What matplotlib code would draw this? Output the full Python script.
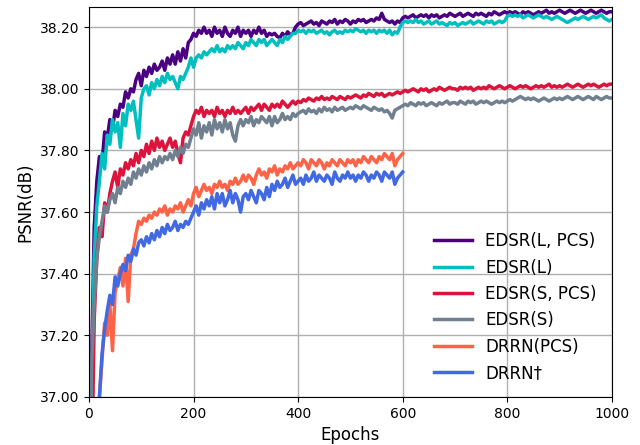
import numpy as np
import matplotlib
matplotlib.use("Agg")
import matplotlib.pyplot as plt

# epochs sampled every 5
epochs_edsr = np.arange(0, 1001, 5)
epochs_drrn = np.arange(0, 601, 5)

edsr_l_pcs = [
    36.30, 37.10, 37.55, 37.70, 37.78, 37.76, 37.86, 37.84, 37.90, 37.87, 37.93, 37.91, 37.95, 37.94, 37.99, 37.97, 38.00, 37.99, 38.03, 38.05,
    38.01, 38.06, 38.04, 38.07, 38.05, 38.08, 38.06, 38.07, 38.09, 38.06, 38.10, 38.08, 38.11, 38.08, 38.12, 38.09, 38.13, 38.10, 38.15, 38.16,
    38.18, 38.17, 38.19, 38.18, 38.20, 38.18, 38.19, 38.17, 38.20, 38.18, 38.19, 38.17, 38.20, 38.18, 38.17, 38.19, 38.18, 38.20, 38.17, 38.19,
    38.18, 38.19, 38.17, 38.19, 38.18, 38.20, 38.18, 38.19, 38.17, 38.18, 38.175, 38.18, 38.17, 38.165, 38.18, 38.17, 38.185, 38.175, 38.18, 38.20,
    38.21, 38.215, 38.205, 38.21, 38.215, 38.22, 38.21, 38.215, 38.205, 38.22, 38.215, 38.21, 38.22, 38.215, 38.225, 38.21, 38.22, 38.215, 38.225, 38.22,
    38.21, 38.22, 38.215, 38.225, 38.22, 38.225, 38.215, 38.22, 38.225, 38.22, 38.23, 38.225, 38.245, 38.225, 38.22, 38.215, 38.22, 38.21, 38.22, 38.215,
    38.23, 38.235, 38.23, 38.235, 38.24, 38.23, 38.235, 38.24, 38.235, 38.24, 38.23, 38.24, 38.235, 38.24, 38.23, 38.235, 38.24, 38.235, 38.245, 38.24,
    38.235, 38.24, 38.245, 38.235, 38.24, 38.245, 38.24, 38.235, 38.245, 38.24, 38.245, 38.24, 38.235, 38.245, 38.24, 38.25, 38.245, 38.24, 38.245, 38.25,
    38.245, 38.25, 38.245, 38.25, 38.245, 38.24, 38.25, 38.245, 38.25, 38.245, 38.24, 38.245, 38.25, 38.245, 38.25, 38.255, 38.245, 38.25, 38.245, 38.25,
    38.255, 38.25, 38.245, 38.25, 38.255, 38.25, 38.245, 38.25, 38.255, 38.25, 38.245, 38.25, 38.255, 38.25, 38.245, 38.25, 38.255, 38.25, 38.245, 38.25,
    38.25,
]

edsr_l = [
    36.20, 37.00, 37.45, 37.62, 37.70, 37.79, 37.74, 37.85, 37.82, 37.90, 37.86, 37.89, 37.81, 37.92, 37.88, 37.95, 37.93, 37.96, 37.90, 37.84,
    37.97, 38.00, 38.01, 37.98, 38.02, 38.00, 38.03, 38.01, 38.04, 38.02, 38.05, 38.03, 38.04, 38.02, 38.00, 38.04, 38.03, 38.05, 38.07, 38.10,
    38.07, 38.10, 38.11, 38.10, 38.12, 38.11, 38.12, 38.13, 38.12, 38.14, 38.12, 38.13, 38.12, 38.14, 38.13, 38.14, 38.13, 38.15, 38.14, 38.13,
    38.15, 38.14, 38.16, 38.15, 38.14, 38.16, 38.15, 38.16, 38.14, 38.15, 38.16, 38.15, 38.14, 38.16, 38.15, 38.17, 38.16, 38.17, 38.18, 38.18,
    38.19, 38.185, 38.19, 38.18, 38.19, 38.185, 38.19, 38.18, 38.185, 38.19, 38.18, 38.185, 38.175, 38.185, 38.19, 38.18, 38.185, 38.18, 38.19, 38.185,
    38.19, 38.185, 38.195, 38.19, 38.185, 38.19, 38.18, 38.19, 38.185, 38.19, 38.18, 38.19, 38.185, 38.19, 38.18, 38.19, 38.175, 38.185, 38.18, 38.20,
    38.215, 38.22, 38.215, 38.22, 38.215, 38.225, 38.215, 38.22, 38.21, 38.215, 38.22, 38.21, 38.215, 38.22, 38.21, 38.215, 38.21, 38.205, 38.215, 38.21,
    38.215, 38.205, 38.21, 38.215, 38.21, 38.215, 38.22, 38.21, 38.215, 38.22, 38.215, 38.21, 38.22, 38.215, 38.22, 38.21, 38.215, 38.22, 38.215, 38.22,
    38.235, 38.24, 38.235, 38.24, 38.235, 38.24, 38.23, 38.235, 38.24, 38.235, 38.23, 38.235, 38.24, 38.235, 38.23, 38.235, 38.23, 38.225, 38.23, 38.235,
    38.23, 38.225, 38.22, 38.215, 38.22, 38.225, 38.23, 38.225, 38.23, 38.235, 38.23, 38.225, 38.23, 38.235, 38.23, 38.235, 38.24, 38.23, 38.225, 38.22,
    38.225,
]

edsr_s_pcs = [
    36.20, 36.70, 37.25, 37.45, 37.55, 37.52, 37.63, 37.60, 37.66, 37.70, 37.73, 37.68, 37.74, 37.72, 37.76, 37.74, 37.77, 37.75, 37.79, 37.76,
    37.80, 37.78, 37.82, 37.79, 37.83, 37.80, 37.84, 37.81, 37.83, 37.80, 37.82, 37.84, 37.81, 37.83, 37.79, 37.76, 37.84, 37.86, 37.85, 37.88,
    37.91, 37.93, 37.92, 37.94, 37.91, 37.93, 37.92, 37.93, 37.91, 37.94, 37.92, 37.93, 37.91, 37.93, 37.92, 37.94, 37.92, 37.93, 37.92, 37.93,
    37.94, 37.92, 37.94, 37.93, 37.94, 37.95, 37.93, 37.95, 37.94, 37.93, 37.95, 37.94, 37.95, 37.94, 37.96, 37.95, 37.94, 37.95, 37.96, 37.95,
    37.96, 37.955, 37.965, 37.96, 37.97, 37.965, 37.96, 37.97, 37.965, 37.975, 37.965, 37.97, 37.965, 37.975, 37.97, 37.965, 37.975, 37.97, 37.965, 37.975,
    37.97, 37.975, 37.98, 37.975, 37.97, 37.98, 37.975, 37.985, 37.98, 37.975, 37.985, 37.98, 37.985, 37.975, 37.98, 37.985, 37.98, 37.985, 37.99, 37.985,
    37.99, 37.995, 37.99, 37.995, 38.00, 37.995, 37.99, 38.00, 37.995, 38.00, 37.99, 37.995, 38.00, 37.995, 38.005, 38.00, 37.995, 38.00, 38.005, 38.00,
    38.00, 37.995, 38.005, 38.00, 38.005, 38.00, 38.005, 37.995, 38.00, 38.005, 38.00, 38.005, 38.00, 38.01, 38.005, 38.00, 38.005, 38.01, 38.005, 38.00,
    38.005, 38.01, 38.005, 38.00, 38.005, 38.01, 38.005, 38.01, 38.005, 38.00, 38.005, 38.01, 38.005, 38.01, 38.005, 38.01, 38.015, 38.005, 38.01, 38.005,
    38.01, 38.005, 38.01, 38.015, 38.01, 38.005, 38.01, 38.015, 38.01, 38.005, 38.01, 38.015, 38.01, 38.015, 38.01, 38.005, 38.01, 38.015, 38.01, 38.015,
    38.015,
]

edsr_s = [
    36.00, 37.10, 37.30, 37.45, 37.52, 37.57, 37.62, 37.60, 37.64, 37.66, 37.63, 37.68, 37.66, 37.70, 37.68, 37.71, 37.69, 37.73, 37.71, 37.74,
    37.72, 37.75, 37.73, 37.76, 37.74, 37.77, 37.75, 37.78, 37.76, 37.78, 37.77, 37.79, 37.77, 37.80, 37.78, 37.81, 37.79, 37.82, 37.81, 37.84,
    37.87, 37.85, 37.89, 37.84, 37.88, 37.86, 37.89, 37.85, 37.90, 37.87, 37.89, 37.86, 37.90, 37.87, 37.89, 37.85, 37.83, 37.88, 37.90, 37.88,
    37.90, 37.89, 37.91, 37.88, 37.90, 37.89, 37.91, 37.90, 37.89, 37.91, 37.88, 37.91, 37.89, 37.90, 37.92, 37.90, 37.91, 37.90, 37.92, 37.91,
    37.92, 37.925, 37.93, 37.92, 37.935, 37.925, 37.93, 37.92, 37.935, 37.925, 37.94, 37.93, 37.935, 37.925, 37.94, 37.93, 37.935, 37.94, 37.93, 37.935,
    37.94, 37.935, 37.945, 37.94, 37.935, 37.945, 37.94, 37.935, 37.93, 37.94, 37.935, 37.93, 37.935, 37.925, 37.93, 37.92, 37.905, 37.93, 37.935, 37.94,
    37.945, 37.95, 37.945, 37.955, 37.95, 37.945, 37.955, 37.95, 37.955, 37.945, 37.95, 37.955, 37.95, 37.945, 37.955, 37.95, 37.955, 37.96, 37.95, 37.955,
    37.955, 37.95, 37.96, 37.955, 37.95, 37.96, 37.955, 37.96, 37.95, 37.955, 37.96, 37.955, 37.96, 37.955, 37.95, 37.955, 37.96, 37.955, 37.96, 37.955,
    37.96, 37.965, 37.96, 37.965, 37.97, 37.975, 37.97, 37.965, 37.97, 37.965, 37.97, 37.965, 37.96, 37.965, 37.97, 37.965, 37.96, 37.965, 37.97, 37.965,
    37.97, 37.965, 37.97, 37.975, 37.97, 37.965, 37.97, 37.975, 37.97, 37.965, 37.97, 37.975, 37.97, 37.965, 37.975, 37.97, 37.965, 37.97, 37.975, 37.97,
    37.97,
]

drrn_pcs = [
    35.80, 36.20, 36.60, 36.90, 37.00, 37.12, 37.24, 37.20, 37.30, 37.15, 37.34, 37.38, 37.42, 37.36, 37.45, 37.31, 37.46, 37.48, 37.53, 37.57,
    37.56, 37.58, 37.57, 37.59, 37.58, 37.60, 37.59, 37.61, 37.60, 37.62, 37.59, 37.61, 37.60, 37.62, 37.61, 37.63, 37.60, 37.62, 37.64, 37.62,
    37.66, 37.68, 37.65, 37.67, 37.69, 37.67, 37.68, 37.66, 37.69, 37.68, 37.70, 37.68, 37.69, 37.67, 37.70, 37.69, 37.71, 37.69, 37.70, 37.72,
    37.70, 37.72, 37.71, 37.69, 37.72, 37.74, 37.72, 37.73, 37.71, 37.74, 37.73, 37.75, 37.72, 37.74, 37.73, 37.75, 37.74, 37.76, 37.74, 37.75,
    37.76, 37.75, 37.77, 37.76, 37.74, 37.77, 37.76, 37.75, 37.77, 37.76, 37.74, 37.76, 37.75, 37.77, 37.76, 37.75, 37.77, 37.76, 37.75, 37.77,
    37.76, 37.77, 37.75, 37.77, 37.76, 37.78, 37.77, 37.76, 37.78, 37.77, 37.76, 37.78, 37.77, 37.79, 37.78, 37.77, 37.79, 37.75, 37.77, 37.78,
    37.79,
]

drrn = [
    35.60, 36.00, 36.40, 36.80, 37.00, 37.14, 37.22, 37.28, 37.33, 37.30, 37.39, 37.36, 37.40, 37.43, 37.41, 37.46, 37.44, 37.48, 37.46, 37.50,
    37.51, 37.49, 37.52, 37.50, 37.53, 37.51, 37.54, 37.52, 37.55, 37.53, 37.56, 37.54, 37.55, 37.57, 37.54, 37.56, 37.55, 37.57, 37.56, 37.58,
    37.60, 37.62, 37.59, 37.63, 37.61, 37.64, 37.62, 37.65, 37.61, 37.66, 37.63, 37.66, 37.62, 37.64, 37.67, 37.63, 37.66, 37.64, 37.60, 37.65,
    37.66, 37.64, 37.67, 37.65, 37.63, 37.67, 37.66, 37.64, 37.68, 37.65, 37.69, 37.67, 37.70, 37.68, 37.69, 37.71, 37.68, 37.70, 37.72, 37.69,
    37.70, 37.71, 37.69, 37.72, 37.70, 37.71, 37.73, 37.70, 37.72, 37.71, 37.70, 37.72, 37.71, 37.69, 37.73, 37.71, 37.70, 37.72, 37.71, 37.73,
    37.71, 37.72, 37.70, 37.72, 37.71, 37.73, 37.72, 37.70, 37.72, 37.71, 37.73, 37.72, 37.70, 37.73, 37.72, 37.71, 37.73, 37.69, 37.71, 37.72,
    37.73,
]

series = [
    (epochs_edsr, edsr_l_pcs, "EDSR(L, PCS)", "indigo"),
    (epochs_edsr, edsr_l, "EDSR(L)", "c"),
    (epochs_edsr, edsr_s_pcs, "EDSR(S, PCS)", "crimson"),
    (epochs_edsr, edsr_s, "EDSR(S)", "slategray"),
    (epochs_drrn, drrn_pcs, "DRRN(PCS)", "tomato"),
    (epochs_drrn, drrn, "DRRN\u2020", "royalblue"),
]

fig = plt.figure(figsize=(6.4, 4.45), dpi=100)
ax = fig.add_axes([0.139, 0.108, 0.817, 0.876])

for x, y, label, color in series:
    ax.plot(x, y, label=label, color=color, linewidth=2.5)

ax.set_xlim(0, 1000)
ax.set_ylim(37.0, 38.265)
ax.set_xticks([0, 200, 400, 600, 800, 1000])
ax.set_yticks([37.0, 37.2, 37.4, 37.6, 37.8, 38.0, 38.2])
ax.yaxis.set_major_formatter(matplotlib.ticker.FormatStrFormatter("%.2f"))
ax.tick_params(labelsize=10)
ax.set_xlabel("Epochs", fontsize=12)
ax.set_ylabel("PSNR(dB)", fontsize=12)
ax.grid(True, color="#b0b0b0", linewidth=1)
ax.set_axisbelow(True)
ax.legend(loc="lower right", fontsize=12, frameon=False, handlelength=2.3)

fig.savefig("out.png", dpi=100)
